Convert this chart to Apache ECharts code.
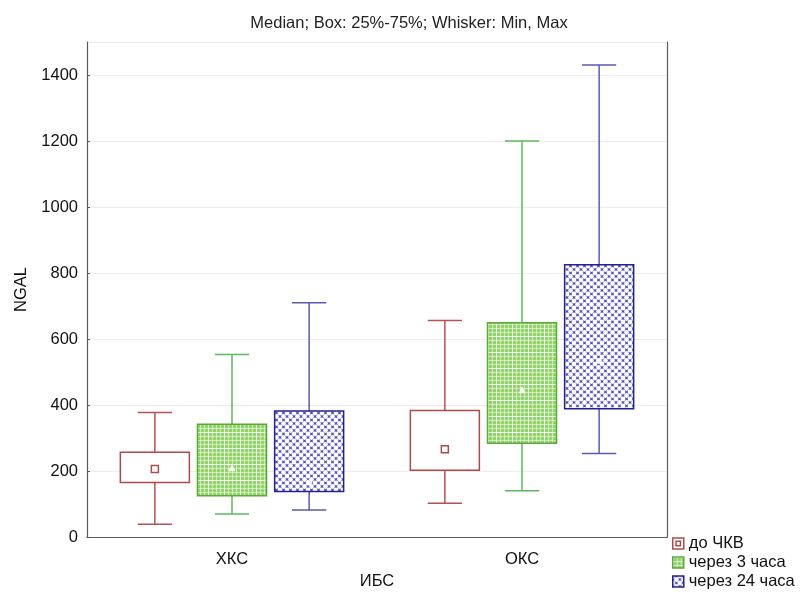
<!DOCTYPE html>
<html>
<head>
<meta charset="utf-8">
<script src="https://cdn.jsdelivr.net/npm/echarts@6/dist/echarts.min.js"></script>
<style>html,body{margin:0;padding:0;background:#fff}#c{width:800px;height:592px}</style>
</head>
<body>
<div id="c"></div>
<script>
// ---- data ----
const categories = ['ХКС', 'ОКС'];
const seriesNames = ['до ЧКВ', 'через 3 часа', 'через 24 часа'];
// each row: [min, q1, median, q3, max]
const doChkv   = [[39, 165, 206, 257, 377], [102, 202, 266, 383, 656]];
const after3h  = [[70, 125, 208, 342, 553], [140, 284, 445, 649, 1200]];
const after24h = [[82, 138, 165, 382, 710], [253, 389, 533, 825, 1430]];
const yTicks = [0, 200, 400, 600, 800, 1000, 1200, 1400];

// ---- styles ----
function makeGreen() {
  const c = document.createElement('canvas'); c.width = 16; c.height = 16;
  const g = c.getContext('2d');
  g.fillStyle = '#92d468'; g.fillRect(0, 0, 16, 16);
  for (let i = 0; i < 4; i++) {
    g.fillStyle = i === 0 ? 'rgba(255,255,255,0.9)' : 'rgba(255,255,255,0.55)';
    g.fillRect(i * 4, 0, 1, 16);
    g.fillRect(0, i * 4, 16, 1);
  }
  return c;
}
function makeBlue() {
  const c = document.createElement('canvas'); c.width = 7; c.height = 7;
  const g = c.getContext('2d');
  g.fillStyle = '#4c4cc8'; g.fillRect(0, 0, 7, 7);
  g.fillStyle = '#ffffff';
  [[0,0],[7,0],[0,7],[7,7],[3.5,3.5]].forEach(p => { g.beginPath(); g.arc(p[0], p[1], 2.4, 0, Math.PI*2); g.fill(); });
  return c;
}
const greenPat = { image: makeGreen(), repeat: 'repeat' };
const bluePat = { image: makeBlue(), repeat: 'repeat' };

const styles = [
  { fill: '#ffffff', border: '#b04a4a', whisker: '#b55353', marker: 'square' },
  { fill: greenPat, border: '#5aaa3a', whisker: '#5cb85c', marker: 'triangle' },
  { fill: bluePat, border: '#22228f', whisker: '#5a5ab0', marker: 'circle' }
];
const legendIcons = ['path://M0,0H10V10H0Z M3,3V7H7V3Z', 'rect', 'rect'];
const offsets = [-0.266, 0, 0.266];
const boxFrac = 0.238, capFrac = 0.118;

function renderItem(params, api) {
  const si = params.seriesIndex;
  const st = styles[si];
  const cat = api.value(0);
  const band = api.size([1, 0])[0];
  const cx = api.coord([cat, 0])[0] + offsets[si] * band;
  const y = i => api.coord([cat, api.value(i)])[1];
  const yMin = y(1), yQ1 = y(2), yMed = y(3), yQ3 = y(4), yMax = y(5);
  const w = boxFrac * band, cw = capFrac * band;
  const ls = { stroke: st.whisker, lineWidth: 1.5 };
  const ch = [
    { type: 'line', shape: { x1: cx, y1: yMax, x2: cx, y2: yQ3 }, style: ls },
    { type: 'line', shape: { x1: cx, y1: yQ1, x2: cx, y2: yMin }, style: ls },
    { type: 'line', shape: { x1: cx - cw / 2, y1: yMax, x2: cx + cw / 2, y2: yMax }, style: ls },
    { type: 'line', shape: { x1: cx - cw / 2, y1: yMin, x2: cx + cw / 2, y2: yMin }, style: ls },
    { type: 'rect', shape: { x: cx - w / 2, y: yQ3, width: w, height: yQ1 - yQ3 },
      style: { fill: st.fill, stroke: st.border, lineWidth: 1.5 } }
  ];
  if (st.marker === 'square') {
    ch.push({ type: 'rect', shape: { x: cx - 3.5, y: yMed - 3.5, width: 7, height: 7 },
      style: { fill: '#fff', stroke: st.border, lineWidth: 1.5 } });
  } else if (st.marker === 'triangle') {
    ch.push({ type: 'polygon', shape: { points: [[cx, yMed - 4], [cx - 3.5, yMed + 3], [cx + 3.5, yMed + 3]] },
      style: { fill: '#ffffff' } });
  } else {
    ch.push({ type: 'circle', shape: { cx: cx, cy: yMed, r: 3 }, style: { fill: 'rgba(255,255,255,0.85)' } });
  }
  return { type: 'group', children: ch };
}

function toData(arr) { return arr.map((r, i) => [i].concat(r)); }
const allData = [doChkv, after3h, after24h];

const font = 'Liberation Sans, Arial, sans-serif';
const axisColor = '#5a5a5a';

const chart = echarts.init(document.getElementById('c'), null, { renderer: 'canvas' });
chart.setOption({
  animation: false,
  backgroundColor: '#fff',
  title: {
    text: 'Median; Box: 25%-75%; Whisker: Min, Max',
    left: 404, top: 10, textAlign: 'center',
    textStyle: { fontFamily: font, fontSize: 16.5, fontWeight: 'normal', color: '#222' }
  },
  grid: { left: 87, right: 133, top: 42, bottom: 55, outerBoundsMode: 'none', containLabel: false },
  legend: {
    orient: 'vertical', left: 672, top: 535, height: 80, padding: 0,
    itemWidth: 11, itemHeight: 11, itemGap: 2,
    textStyle: { fontFamily: font, fontSize: 16.5, lineHeight: 16, color: '#111' },
    data: seriesNames.map((n, i) => ({
      name: n, icon: legendIcons[i],
      itemStyle: { color: styles[i].fill, borderColor: styles[i].border, borderWidth: 1.5 }
    }))
  },
  xAxis: [{
    type: 'category', data: categories, position: 'bottom',
    name: 'ИБС', nameLocation: 'middle', nameGap: 36,
    nameTextStyle: { fontFamily: font, fontSize: 16.5, color: '#111' },
    axisLine: { lineStyle: { color: axisColor, width: 1.2 } },
    axisTick: { inside: true, alignWithLabel: true, length: 4, lineStyle: { color: axisColor } },
    axisLabel: { fontFamily: font, fontSize: 16.5, color: '#111', margin: 14 },
    splitLine: { show: false }
  }, {
    type: 'category', data: categories, position: 'top',
    axisLine: { lineStyle: { color: axisColor, width: 1.2 } },
    axisTick: { inside: true, alignWithLabel: true, length: 4, lineStyle: { color: axisColor } },
    axisLabel: { show: false }
  }],
  yAxis: [{
    type: 'value', min: 0, max: 1500, interval: 200,
    name: 'NGAL', nameLocation: 'middle', nameGap: 55, nameRotate: 90,
    nameTextStyle: { fontFamily: font, fontSize: 16.5, color: '#111' },
    axisLine: { show: true, lineStyle: { color: axisColor, width: 1.2 } },
    axisTick: { show: true, inside: true, length: 3, lineStyle: { color: axisColor } },
    axisLabel: { fontFamily: font, fontSize: 16.5, color: '#111', margin: 9, showMaxLabel: false,
      formatter: v => (yTicks.indexOf(v) >= 0 ? String(v) : '') },
    splitLine: { show: true, lineStyle: { color: '#ececec', width: 1 } }
  }, {
    type: 'value', min: 0, max: 1500, interval: 200, position: 'right',
    axisLine: { show: true, lineStyle: { color: axisColor, width: 1.2 } },
    axisTick: { show: false }, axisLabel: { show: false }, splitLine: { show: false }
  }],
  series: seriesNames.map((n, i) => ({
    name: n, type: 'custom', renderItem: renderItem,
    xAxisIndex: 0, yAxisIndex: 0,
    itemStyle: { color: styles[i].fill, borderColor: styles[i].border },
    encode: { x: 0, y: [1, 2, 3, 4, 5] },
    data: toData(allData[i])
  }))
});
</script>
</body>
</html>
